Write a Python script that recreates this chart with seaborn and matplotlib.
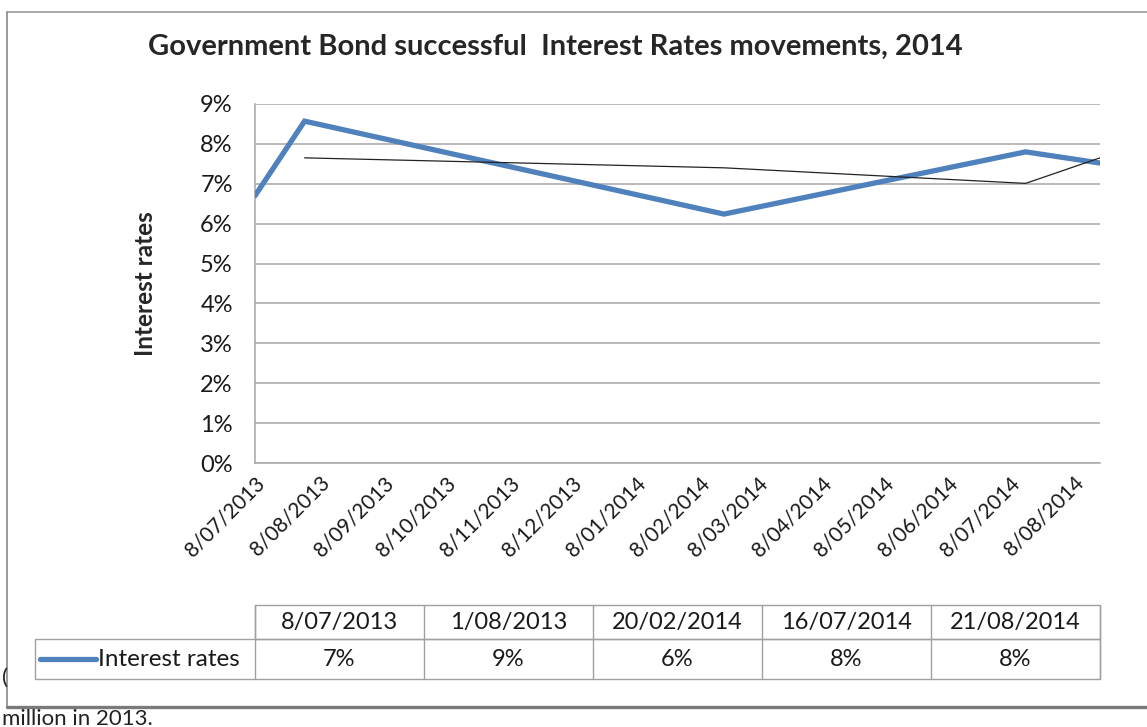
import matplotlib
matplotlib.use("Agg")
import matplotlib.pyplot as plt
from matplotlib.patches import Rectangle
from matplotlib.lines import Line2D
import seaborn as sns
import pandas as pd

#---- Data ----#
bond_dates = ["8/07/2013", "1/08/2013", "20/02/2014", "16/07/2014", "21/08/2014"]
bond_rates = [6.7, 8.57, 6.24, 7.8, 7.52]          # %

# 2-period moving average (thin black line)
ma_dates = ["1/08/2013", "20/02/2014", "16/07/2014", "21/08/2014"]
ma_rates = [7.65, 7.4, 7.01, 7.65]

tick_labels = ["8/07/2013", "8/08/2013", "8/09/2013", "8/10/2013", "8/11/2013",
               "8/12/2013", "8/01/2014", "8/02/2014", "8/03/2014", "8/04/2014",
               "8/05/2014", "8/06/2014", "8/07/2014", "8/08/2014"]
y_ticks = [0, 1, 2, 3, 4, 5, 6, 7, 8, 9]

title = "Government Bond successful  Interest Rates movements, 2014"
series_name = "Interest rates"

bond = pd.DataFrame({"date": pd.to_datetime(bond_dates, format="%d/%m/%Y"),
                     "rate": bond_rates})
ma = pd.DataFrame({"date": pd.to_datetime(ma_dates, format="%d/%m/%Y"),
                   "rate": ma_rates})
ticks = pd.to_datetime(tick_labels, format="%d/%m/%Y")

#---- Figure ----#
sns.set_style("white")
plt.rcParams["font.family"] = ["Lato", "DejaVu Sans"]

W, H = 1147, 727
fig = plt.figure(figsize=(W / 100, H / 100), dpi=100)

# overlay in pixel coords for border, title and data table
ov = fig.add_axes([0, 0, 1, 1])
ov.set_xlim(0, W)
ov.set_ylim(H, 0)
ov.axis("off")

# plot area
L, R, T, B = 255, 1100, 104, 463
ax = fig.add_axes([L / W, (H - B) / H, (R - L) / W, (B - T) / H])

sns.lineplot(data=bond, x="date", y="rate", ax=ax, color="#4F81BD",
             linewidth=3.8, solid_joinstyle="miter", zorder=3)
sns.lineplot(data=ma, x="date", y="rate", ax=ax, color="#222222",
             linewidth=0.9, zorder=4)

ax.set_xlim(bond["date"].iloc[0], bond["date"].iloc[-1])
ax.set_ylim(0, 9)
ax.set_yticks(y_ticks)
ax.set_yticklabels([f"{v}%" for v in y_ticks], fontsize=17, color="#1a1a1a")
ax.set_xticks(ticks)
ax.set_xticklabels(tick_labels, fontsize=15, rotation=45, ha="right",
                   rotation_mode="anchor", color="#1a1a1a")
ax.tick_params(axis="y", length=0, pad=16)
ax.tick_params(axis="x", length=0, pad=7)
ax.grid(axis="y", color="#A6A6A6", linewidth=1.1)
ax.set_axisbelow(True)
for s in ["top", "right"]:
    ax.spines[s].set_visible(False)
for s in ["left", "bottom"]:
    ax.spines[s].set_color("#A6A6A6")
    ax.spines[s].set_linewidth(1.1)
ax.set_xlabel("")
ax.set_ylabel(series_name, fontsize=17.5, fontweight="bold")
ax.yaxis.set_label_coords(-0.116, 0.5)

# title
ov.text(555, 47, title, fontsize=21, fontweight="bold", ha="center", va="center")

# chart border (cropped on the right)
ov.plot([7, W + 5], [12, 12], color="#9A9A9A", linewidth=1.2)
ov.plot([7, 7], [12, 707], color="#8A8A8A", linewidth=1.2)
ov.plot([7, W + 5], [707, 707], color="#7A7A7A", linewidth=2.4)

# data table under the axis
col_w = (R - L) / len(bond_dates)
grid_c = "#A0A0A0"
ov.add_patch(Rectangle((L, 605), R - L, 34, fill=False, edgecolor=grid_c, linewidth=1))
ov.add_patch(Rectangle((35, 639), R - 35, 40, fill=False, edgecolor=grid_c, linewidth=1))
for i in range(len(bond_dates) + 1):
    x = L + i * col_w
    ov.plot([x, x], [605, 679], color=grid_c, linewidth=1)
for i, (d, v) in enumerate(zip(bond_dates, bond_rates)):
    cx = L + (i + 0.5) * col_w
    ov.text(cx, 622, d, fontsize=17, ha="center", va="center", color="#1a1a1a")
    ov.text(cx, 659, f"{v:.0f}%", fontsize=17, ha="center", va="center",
            color="#1a1a1a")
ov.add_line(Line2D([40, 96], [659, 659], color="#4F81BD", linewidth=3.8,
                   solid_capstyle="round"))
ov.text(98, 659, series_name, fontsize=17.5, ha="left", va="center", color="#1a1a1a")

# bits of the surrounding document
ov.text(2, 678, "(", fontsize=16, ha="left", va="center", color="#222222")
ov.text(2, 719, "million in 2013.", fontsize=16, ha="left", va="center",
        color="#222222")

plt.savefig("out.png", dpi=100)
